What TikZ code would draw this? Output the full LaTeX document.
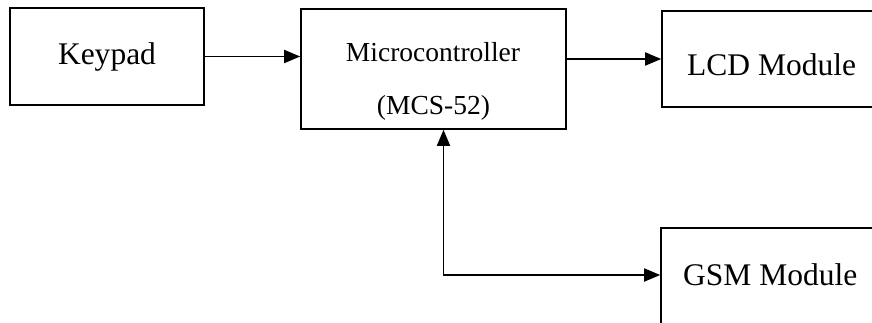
\documentclass[tikz,border=0pt]{standalone}
\usepackage{fontspec}
\setmainfont{Liberation Serif}
\usepackage{tikz}
\usetikzlibrary{arrows.meta, positioning, calc}

\begin{document}
\begin{tikzpicture}[x=1pt, y=-1pt, >={Triangle[length=16pt, width=13pt]}]
  \tikzstyle{block} = [rectangle, draw=black, line width=1.6pt, fill=none, inner sep=0pt]
  \tikzstyle{link} = [line width=1.8pt]
  \tikzstyle{bigtext} = [inner sep=0pt, anchor=base, font=\fontsize{31.5}{37}\selectfont]
  \tikzstyle{smalltext} = [inner sep=0pt, anchor=base, font=\fontsize{27.5}{33}\selectfont]

  \useasboundingbox (0,0) rectangle (872,323);
  \clip (0,0) rectangle (872,323);

  % Row 1: Blocks
  \node [block, minimum width=194pt, minimum height=97pt] (keypad) at (107, 56.5) {};
  \node [block, minimum width=265pt, minimum height=120pt] (mcu) at (433.5, 69) {};
  \node [block, minimum width=240pt, minimum height=96pt] (lcd) at (782, 59) {};

  % Row 2: GSM (cut at the page edge)
  \node [block, minimum width=240pt, minimum height=100pt] (gsm) at (781, 278) {};

  % Texts
  \node [bigtext] (keypadtext) at (107, 65) {Keypad};
  \node [smalltext] (mcutext) at (433, 62) {Microcontroller};
  \node [smalltext] (mcutype) at (433.5, 115) {(MCS-52)};
  \node [bigtext, anchor=base west] (lcdtext) at (687, 76) {LCD Module};
  \node [bigtext, anchor=base west] (gsmtext) at (683, 285) {GSM Module};

  % Arrows
  \draw[->, link] (keypad.east) -- (keypad.east -| mcu.west);
  \draw[->, link] (lcd.west -| mcu.east) -- (lcd.west);
  \draw[<->, link] ([xshift=10pt]mcu.south) |- ([yshift=3pt]gsm.west);
\end{tikzpicture}
\end{document}
